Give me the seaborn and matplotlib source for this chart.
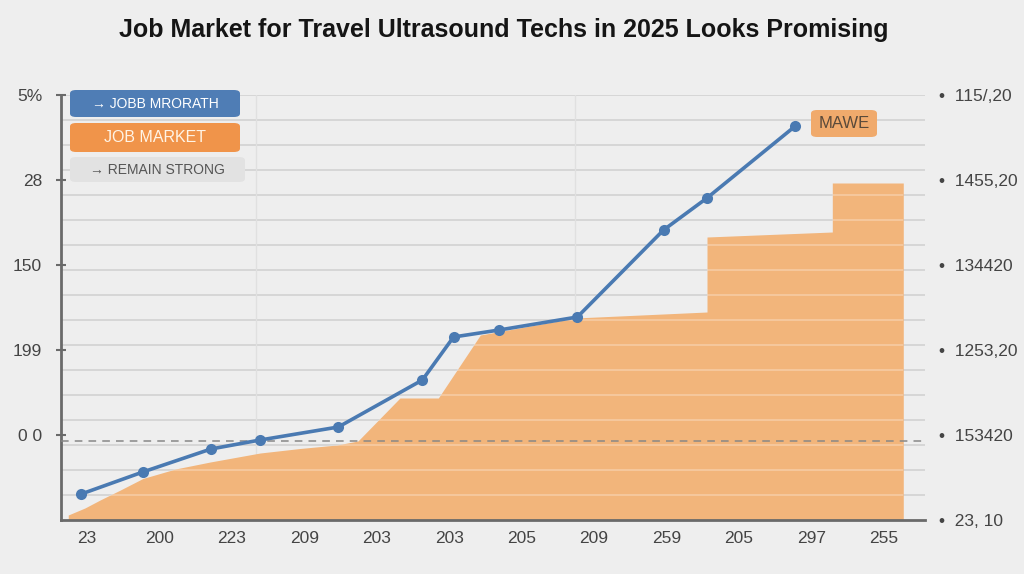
import numpy as np
import pandas as pd
import matplotlib
matplotlib.use("Agg")
import matplotlib.pyplot as plt
from matplotlib.patches import FancyBboxPatch
import seaborn as sns

# categories along the bottom (as printed on the chart)
x_labels = ['23', '200', '223', '209', '203', '203', '205', '209', '259', '205', '297', '255']
left_labels = ['5%', '28', '150', '199', '0 0']
right_labels = ['115/,20', '1455,20', '134420', '1253,20', '153420', '23, 10']

# blue growth line
line_x = [-0.08, 0.77, 1.71, 2.39, 3.47, 4.63, 5.06, 5.69, 6.77, 7.96, 8.56, 9.78]
line_y = [1.04, 1.92, 2.84, 3.20, 3.72, 5.60, 7.32, 7.60, 8.12, 11.60, 12.88, 15.76]

# orange job market area outline
area_x = [-0.26, -0.03, 0.18, 0.46, 0.77, 1.22, 1.70, 2.39, 2.94, 3.45, 3.74,
          4.32, 4.85, 5.43, 6.74, 8.56, 8.56, 10.29, 10.29, 11.27, 11.27]
area_y = [0.20, 0.48, 0.80, 1.20, 1.66, 2.04, 2.32, 2.68, 2.86, 3.00, 3.16,
          4.88, 4.88, 7.40, 8.08, 8.32, 11.32, 11.52, 13.48, 13.48, 0.0]

baseline = 3.16

bg = '#eeeeee'
blue = '#4a7ab2'
orange = '#f2b57b'

sns.set_theme(style='white')
plt.rcParams['font.family'] = ['Liberation Sans', 'DejaVu Sans']

fig = plt.figure(figsize=(10.24, 5.74), dpi=100, facecolor=bg)
ax = fig.add_axes([61/1024, 54/574, 864/1024, 425/574], facecolor=bg)
ax.set_xlim(-0.36, 11.57)
ax.set_ylim(0, 17)

# grid
for g in range(1, 18):
    ax.axhline(g, color='#d6d6d6', lw=1.4, zorder=0)
for g in [2.33, 6.74]:
    ax.axvline(g, color='#e0e0e0', lw=1.0, zorder=0)

# area
poly = ax.fill_between(area_x, 0, area_y, color=orange, lw=0, zorder=1)
for g in range(1, 17):
    gl = ax.axhline(g, color='white', lw=1.2, alpha=0.3, zorder=2)
    gl.set_clip_path(poly.get_paths()[0], poly.get_transform())

ax.axhline(baseline, color='#888888', lw=1.1, ls=(0, (5, 4)), zorder=3)

# line
df = pd.DataFrame({'x': line_x, 'y': line_y})
sns.lineplot(data=df, x='x', y='y', ax=ax, color=blue, lw=2.6, marker='o',
             markersize=8, markeredgewidth=0, zorder=4, sort=False)

# axes styling
for s in ['top', 'right']:
    ax.spines[s].set_visible(False)
for s in ['left', 'bottom']:
    ax.spines[s].set_color('#6a6a6a')
    ax.spines[s].set_linewidth(2)

ax.set_xticks(np.arange(len(x_labels)))
ax.set_xticklabels(x_labels, fontsize=12.5, color='#444444')
ax.tick_params(axis='x', length=0, pad=8)

left_ticks = [17 - 3.4 * i for i in range(len(left_labels))]
ax.set_yticks(left_ticks)
ax.set_yticklabels(left_labels, fontsize=12.5, color='#444444')
ax.tick_params(axis='y', direction='inout', length=7, width=1.5, color='#6a6a6a', pad=10)
ax.set_xlabel('')
ax.set_ylabel('')

ax2 = ax.twinx()
ax2.set_ylim(0, 17)
ax2.set_yticks([17 - 3.4 * i for i in range(len(right_labels))])
ax2.set_yticklabels(['\u2022  ' + t for t in right_labels], fontsize=12.5, color='#444444')
ax2.tick_params(axis='y', length=0, pad=10)
for s in ax2.spines.values():
    s.set_visible(False)
ax2.grid(False)

# title
fig.text(0.492, 0.947, 'Job Market for Travel Ultrasound Techs in 2025 Looks Promising',
         ha='center', va='center', fontsize=18, fontweight='bold', color='#151515')

# legend-like boxes
def tag(x0, y0, w, h, fc, text, tc, fs):
    box = FancyBboxPatch((x0/1024, 1 - (y0 + h)/574), w/1024, h/574,
                         boxstyle='round,pad=0,rounding_size=0.006',
                         transform=fig.transFigure, fc=fc, ec='none', zorder=5)
    fig.patches.append(box)
    fig.text((x0 + w/2)/1024, 1 - (y0 + h/2)/574, text, ha='center', va='center',
             fontsize=fs, color=tc, zorder=6)

tag(70, 90, 170, 27, '#4f7db5', '\u2192 JOBB MRORATH', 'white', 10)
tag(70, 123, 170, 29, '#f0944a', 'JOB MARKET', '#fff4e6', 11.5)
tag(70, 157, 175, 25, '#e2e2e2', '\u2192 REMAIN STRONG', '#555555', 10)
tag(811, 110, 66, 27, '#f0aa6c', 'MAWE', '#5a4a3a', 12)

fig.savefig('out.png', dpi=100, facecolor=bg)
